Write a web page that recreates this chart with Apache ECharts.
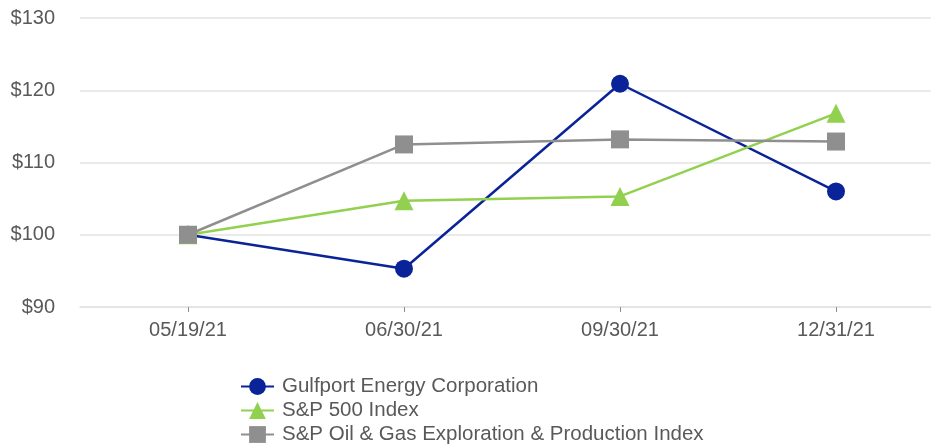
<!DOCTYPE html>
<html><head><meta charset="utf-8">
<script src="https://cdn.jsdelivr.net/npm/echarts@6/dist/echarts.min.js"></script>
<style>html,body{margin:0;padding:0;background:#fff}#c{width:931px;height:444px}</style>
</head><body><div id="c"></div>
<script>
const categories = ['05/19/21', '06/30/21', '09/30/21', '12/31/21'];
const gulfport = [100, 95.3, 120.9, 106.0];
const sp500 = [100, 104.7, 105.3, 116.8];
const spOilGas = [100, 112.5, 113.2, 112.9];
const yTicks = [90, 100, 110, 120, 130];

const chart = echarts.init(document.getElementById('c'));
const font = 'Liberation Sans, Arial, sans-serif';
const txt = '#595959';
function mk(name, data, color, symbol, size) {
  return {
    name, type: 'line', data, symbol, symbolSize: size,
    lineStyle: { color, width: 2.5 }, itemStyle: { color },
    emphasis: { disabled: true }
  };
}
chart.setOption({
  animation: false,
  grid: { left: 80, top: 18, width: 864, height: 289, outerBoundsMode: 'none', containLabel: false },
  xAxis: {
    type: 'category', data: categories, boundaryGap: true,
    axisLine: { show: true, lineStyle: { color: '#e3e3e3', width: 1.5 } },
    axisTick: { show: true, alignWithLabel: true, length: 5, lineStyle: { color: '#8c8c8c' } },
    axisLabel: { color: txt, fontSize: 20, fontFamily: font, margin: 13 }
  },
  yAxis: {
    type: 'value', min: yTicks[0], max: yTicks[yTicks.length - 1], interval: 10,
    axisLine: { show: false }, axisTick: { show: false },
    splitLine: { lineStyle: { color: '#e3e3e3', width: 1.5 } },
    axisLabel: { color: txt, fontSize: 20, fontFamily: font, margin: 25, formatter: v => '$' + v }
  },
  legend: {
    orient: 'vertical', left: 240, top: 376, height: 90, itemWidth: 33, itemHeight: 21, itemGap: 3,
    padding: 0,
    textStyle: { color: txt, fontSize: 20.5, fontFamily: font, padding: [0, 0, 0, 3] },
    data: ['Gulfport Energy Corporation', 'S&P 500 Index', 'S&P Oil & Gas Exploration & Production Index']
  },
  series: [
    mk('Gulfport Energy Corporation', gulfport, '#0b2398', 'circle', 18),
    mk('S&P 500 Index', sp500, '#92d14f', 'triangle', 19),
    mk('S&P Oil & Gas Exploration & Production Index', spOilGas, '#8f8f8f', 'rect', 18)
  ]
});
</script></body></html>
